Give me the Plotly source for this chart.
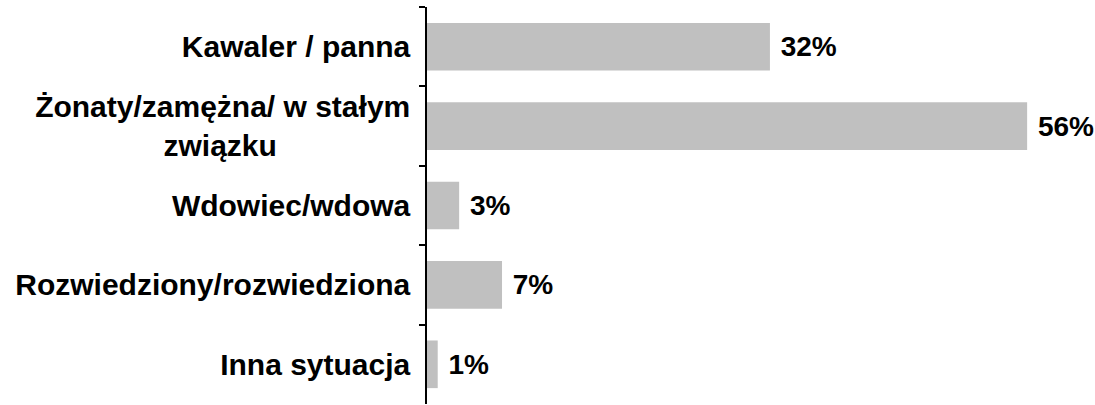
import plotly.graph_objects as go

categories = [
    'Kawaler / panna',
    'Żonaty/zamężna/ w stałym<br>związku',
    'Wdowiec/wdowa',
    'Rozwiedziony/rozwiedziona',
    'Inna sytuacja',
]
values = [32, 56, 3, 7, 1]
labels = ['32%', '56%', '3%', '7%', '1%']

# tick labels are right-aligned per line; pad the second line so the
# wrapped label looks centred like in the original
pad = '\u00a0' * 16
y_labels = [c.replace('<br>związku', '<br>związku' + pad) for c in categories]

fig = go.Figure(go.Bar(
    x=values,
    y=y_labels,
    orientation='h',
    marker=dict(color='#C0C0C0', line=dict(width=0)),
    width=0.6,
    text=labels,
    texttemplate='\u00a0%{text}',
    textposition='outside',
    cliponaxis=False,
    textfont=dict(family='Liberation Sans', size=28, color='black', weight='bold'),
))

fig.update_layout(
    width=1095,
    height=405,
    margin=dict(l=427, r=25, t=7, b=1),
    paper_bgcolor='white',
    plot_bgcolor='white',
    showlegend=False,
    font=dict(family='Liberation Sans', color='black'),
)

fig.update_xaxes(range=[0, 60], visible=False, automargin=False)
fig.update_yaxes(
    autorange='reversed',
    automargin=False,
    showline=True,
    linecolor='black',
    linewidth=1.5,
    ticks='outside',
    tickson='boundaries',
    ticklen=6,
    tickcolor='black',
    tickwidth=1.5,
    showgrid=False,
    ticklabelstandoff=9,
    tickfont=dict(family='Liberation Sans', size=30, color='black', weight='bold'),
)

# page body has a default 8px margin; drop it so the figure fills the window
fig.write_html(
    'out.html',
    config={'displayModeBar': False},
    post_script="document.body.style.margin='0';",
)
